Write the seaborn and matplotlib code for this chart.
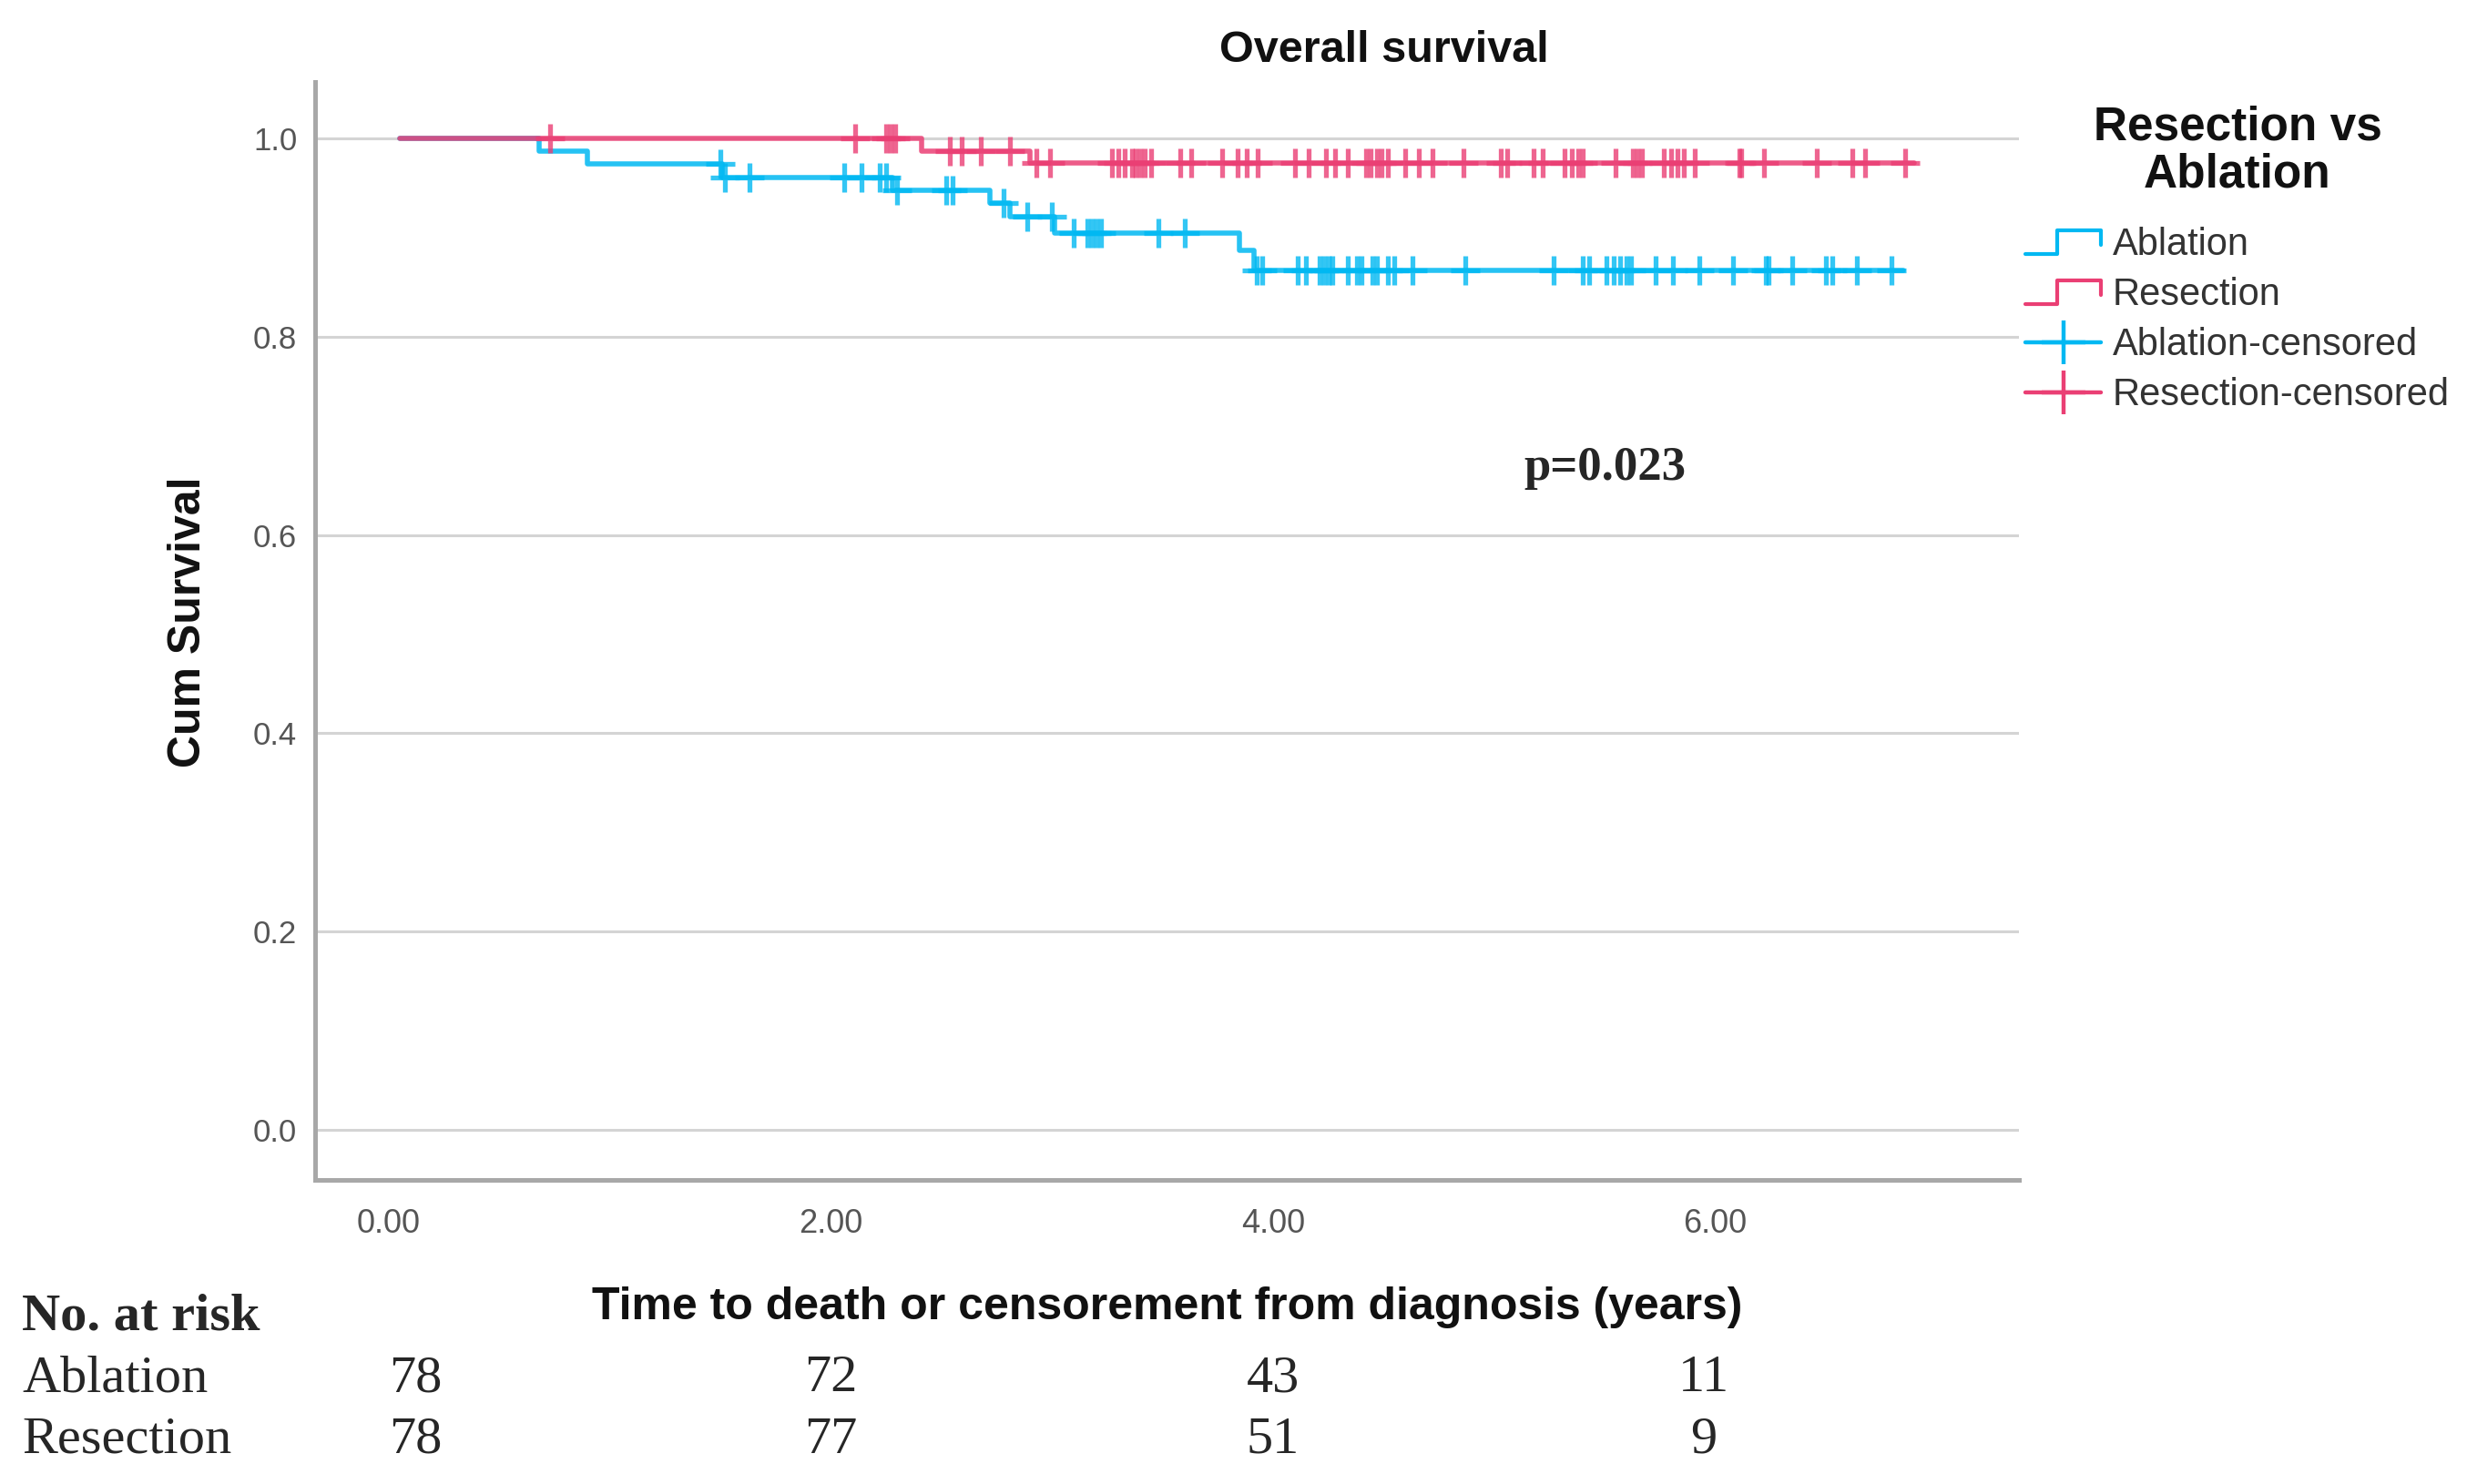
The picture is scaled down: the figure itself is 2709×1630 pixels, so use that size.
import numpy as np
import pandas as pd
import matplotlib
matplotlib.use("Agg")
import matplotlib.pyplot as plt
import seaborn as sns
from matplotlib import font_manager
from matplotlib.lines import Line2D
from matplotlib.legend_handler import HandlerBase
import matplotlib.transforms as mtransforms

# -----------------------------
# Data
# -----------------------------
start_time = 0.05
ablation_drop_times = [0.68, 0.90, 1.51, 2.28, 2.72, 2.81, 3.01, 3.85, 3.915]
ablation_levels = [0.987, 0.974, 0.961, 0.948, 0.935, 0.921, 0.905, 0.887, 0.867]
ablation_end = 6.85
ablation_censored = [1.50, 1.52, 1.63, 2.06, 2.14, 2.22, 2.25, 2.30, 2.52, 2.55,
                     2.78, 2.89, 3.00, 3.10, 3.16, 3.18, 3.20, 3.22, 3.48, 3.60,
                     3.925, 3.95, 4.11, 4.15, 4.21, 4.23, 4.25, 4.27, 4.34, 4.38,
                     4.40, 4.45, 4.47, 4.52, 4.55, 4.63, 4.87, 5.27, 5.40, 5.43,
                     5.51, 5.54, 5.57, 5.60, 5.62, 5.73, 5.81, 5.93, 6.08, 6.23,
                     6.24, 6.35, 6.50, 6.53, 6.64, 6.80]

resection_drop_times = [2.41, 2.90]
resection_levels = [0.987, 0.975]
resection_end = 6.90
resection_censored = [0.73, 2.11, 2.25, 2.27, 2.29, 2.54, 2.59, 2.68, 2.81, 2.93,
                      2.99, 3.27, 3.30, 3.33, 3.36, 3.38, 3.40, 3.42, 3.45, 3.58,
                      3.63, 3.77, 3.84, 3.88, 3.93, 4.10, 4.16, 4.24, 4.28, 4.34,
                      4.42, 4.44, 4.47, 4.49, 4.52, 4.60, 4.66, 4.72, 4.86, 5.03,
                      5.06, 5.18, 5.22, 5.32, 5.35, 5.38, 5.40, 5.55, 5.63, 5.65,
                      5.67, 5.77, 5.80, 5.83, 5.86, 5.91, 6.11, 6.12, 6.22, 6.46,
                      6.62, 6.68, 6.86]

groups = ["Ablation", "Resection"]
risk_times = [0.12, 2.0, 4.0, 5.95]
ablation_at_risk = [78, 72, 43, 11]
resection_at_risk = [78, 77, 51, 9]
x_ticks = [0, 2, 4, 6]
y_ticks = [0.0, 0.2, 0.4, 0.6, 0.8, 1.0]

colors = {"Ablation": "#00B8F2", "Resection": "#EA3F74"}

# -----------------------------
# Build tables
# -----------------------------
def step_table(name, drops, levels, end):
    t = [start_time] + list(drops) + [end]
    s = [1.0] + list(levels) + [levels[-1]]
    return pd.DataFrame({"time": t, "surv": s, "group": name})

def censor_table(name, drops, levels, cens):
    t = np.array([start_time] + list(drops))
    s = np.array([1.0] + list(levels))
    idx = np.searchsorted(t, cens, side="right") - 1
    return pd.DataFrame({"time": cens, "surv": s[idx], "group": name})

steps = pd.concat([
    step_table("Ablation", ablation_drop_times, ablation_levels, ablation_end),
    step_table("Resection", resection_drop_times, resection_levels, resection_end),
])
cens = pd.concat([
    censor_table("Ablation", ablation_drop_times, ablation_levels, ablation_censored),
    censor_table("Resection", resection_drop_times, resection_levels, resection_censored),
])

# -----------------------------
# Style
# -----------------------------
sns.set_style("white")
names = {f.name for f in font_manager.fontManager.ttflist}
narrow = "Liberation Sans Narrow" if "Liberation Sans Narrow" in names else "Liberation Sans"
plt.rcParams["font.family"] = ["Liberation Sans", "DejaVu Sans"]

fig = plt.figure(figsize=(13.545, 8.15), dpi=200)
ax = fig.add_axes([0.1276, 0.2047, 0.6907, 0.740])

for g in groups:
    sub = steps[steps["group"] == g]
    sns.lineplot(data=sub, x="time", y="surv", ax=ax, color=colors[g],
                 drawstyle="steps-post", estimator=None, sort=False,
                 lw=2.0, alpha=0.85, legend=False, zorder=3)
    csub = cens[cens["group"] == g]
    sns.scatterplot(data=csub, x="time", y="surv", ax=ax, color=colors[g],
                    marker="+", s=130, linewidth=1.9, alpha=0.8,
                    legend=False, zorder=4)

ax.set_xlim(-0.335, 7.374)
ax.set_ylim(-0.051, 1.057)
ax.set_xticks(x_ticks)
ax.set_xticklabels([f"{v:.2f}" for v in x_ticks], family=narrow)
ax.set_yticks(y_ticks)
ax.set_yticklabels([f"{v:.1f}" for v in y_ticks], family=narrow)
ax.tick_params(axis="x", length=0, pad=11, labelsize=13, labelcolor="#555555")
ax.tick_params(axis="y", length=0, pad=7, labelsize=12.5, labelcolor="#555555")
ax.grid(axis="y", color="#d4d4d4", lw=1.1, zorder=0)
ax.set_axisbelow(True)
for side in ["top", "right"]:
    ax.spines[side].set_visible(False)
for side in ["left", "bottom"]:
    ax.spines[side].set_color("#a8a8a8")
    ax.spines[side].set_linewidth(1.8)
ax.set_xlabel("")
ax.set_ylabel("")

fig.text(0.561, 0.966, "Overall survival", ha="center", va="center",
         fontsize=17.5, fontweight="bold", color="#111111")
fig.text(0.0765, 0.581, "Cum Survival", ha="center", va="center", rotation=90,
         fontsize=18, fontweight="bold", color="#111111")
fig.text(0.473, 0.119, "Time to death or censorement from diagnosis (years)",
         ha="center", va="center", fontsize=18, fontweight="bold",
         color="#111111", family=narrow)

ax.text(5.5, 0.668, "p=0.023", ha="center", va="center", fontsize=19,
        fontweight="bold", family="Liberation Serif")

# -----------------------------
# Legend
# -----------------------------
class StepHandler(HandlerBase):
    def create_artists(self, legend, orig_handle, xdescent, ydescent,
                       width, height, fontsize, trans):
        x0, y0 = -xdescent, -ydescent
        xs = [x0, x0 + 0.42 * width, x0 + 0.42 * width, x0 + width, x0 + width]
        ys = [y0 + 0.05 * height, y0 + 0.05 * height, y0 + 0.95 * height,
              y0 + 0.95 * height, y0 + 0.4 * height]
        ln = Line2D(xs, ys, color=orig_handle.get_color(), lw=1.5, transform=trans)
        return [ln]

fig.text(0.907, 0.898, "Resection vs\nAblation", ha="center", va="center",
         fontsize=18.5, fontweight="bold", color="#111111", linespacing=1.08)

h_ab = Line2D([], [], color=colors["Ablation"])
h_re = Line2D([], [], color=colors["Resection"])
h_abc = Line2D([], [], color=colors["Ablation"], marker="+", markersize=17, mew=1.6, lw=1.6)
h_rec = Line2D([], [], color=colors["Resection"], marker="+", markersize=17, mew=1.6, lw=1.6)
leg = fig.legend([h_ab, h_re, h_abc, h_rec],
                 ["Ablation", "Resection", "Ablation-censored", "Resection-censored"],
                 handler_map={h_ab: StepHandler(), h_re: StepHandler()},
                 loc="upper left", bbox_to_anchor=(0.821, 0.847), frameon=False,
                 fontsize=15, handlelength=2.0, handletextpad=0.3, labelspacing=0.36,
                 borderpad=0, borderaxespad=0)
for t in leg.get_texts():
    t.set_color("#333333")

# -----------------------------
# Number at risk table
# -----------------------------
blend = mtransforms.blended_transform_factory(ax.transData, fig.transFigure)
serif = "Liberation Serif"
fig.text(0.009, 0.1124, "No. at risk", ha="left", va="center", fontsize=21,
         family=serif, fontweight="bold")
fig.text(0.009, 0.0710, "Ablation", ha="left", va="center", fontsize=21, family=serif)
fig.text(0.009, 0.0297, "Resection", ha="left", va="center", fontsize=21, family=serif)
for xv, a, r in zip(risk_times, ablation_at_risk, resection_at_risk):
    ax.text(xv, 0.0710, str(a), transform=blend, ha="center", va="center",
            fontsize=21, family=serif)
    ax.text(xv, 0.0297, str(r), transform=blend, ha="center", va="center",
            fontsize=21, family=serif)

fig.savefig("out.png", dpi=200)
